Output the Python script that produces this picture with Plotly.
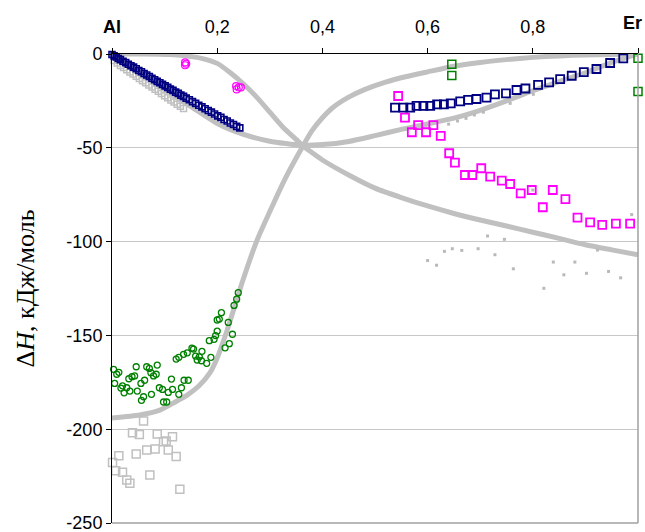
import plotly.graph_objects as go

# ---- data ----
# gray reference curves
curveA_x = [0, 0.06, 0.11, 0.14, 0.17, 0.2, 0.225, 0.25, 0.275, 0.3, 0.325, 0.35, 0.363, 0.38, 0.4, 0.45, 0.5, 0.55, 0.6, 0.65, 0.7, 0.75, 0.8, 0.85, 0.9, 0.95, 1.0]
curveA_y = [0, 0, -0.3, -1, -2.3, -5, -10, -16, -23, -31, -39, -45.5, -49, -52.5, -56.5, -64.5, -71.5, -76.5, -81, -85, -88.5, -91.7, -95, -98.3, -101.7, -104.4, -107]

curveB_x = [0, 0.053, 0.091, 0.12, 0.143, 0.165, 0.186, 0.2, 0.219, 0.235, 0.249, 0.276, 0.3, 0.33, 0.363, 0.38, 0.4, 0.42, 0.45, 0.48, 0.52, 0.56, 0.6, 0.65, 0.7, 0.75, 0.8, 0.85, 0.9, 0.95, 1.0]
curveB_y = [-194, -192.4, -189.8, -185.5, -181.8, -177, -170, -162, -147.1, -133, -120.5, -99.1, -84, -66, -49, -41, -34, -28.5, -23, -19, -15, -12, -9.5, -6.5, -4.5, -3, -1.8, -1, -0.5, -0.2, 0]

curveC_x = [0, 0.05, 0.1, 0.15, 0.2, 0.25, 0.3, 0.36, 0.4, 0.45, 0.5, 0.55, 0.6, 0.65, 0.7, 0.75, 0.8, 0.85, 0.9, 0.95, 1.0]
curveC_y = [0, -9.5, -19, -28, -37, -42.8, -46.5, -48.6, -48.3, -46.6, -43.5, -40.2, -37.3, -34.2, -30, -25, -19.6, -14.7, -10, -4.5, 0]

# navy small squares (Al-rich side)
navyL_x = [0.000, 0.004, 0.008, 0.012, 0.016, 0.021, 0.026, 0.031, 0.036, 0.041, 0.046, 0.051, 0.056, 0.061, 0.066, 0.071, 0.076, 0.081, 0.086, 0.091, 0.096, 0.101, 0.106, 0.111, 0.116, 0.121, 0.126, 0.131, 0.136, 0.141, 0.147, 0.153, 0.159, 0.165, 0.171, 0.177, 0.183, 0.189, 0.195, 0.201, 0.207, 0.213, 0.219, 0.225, 0.231, 0.237, 0.243]
navyL_y = [-0.3, -1.0, -1.6, -2.4, -3.0, -3.9, -4.6, -5.5, -6.3, -7.0, -7.9, -8.8, -9.5, -10.4, -11.2, -12.0, -12.9, -13.7, -14.6, -15.3, -16.2, -17.0, -17.8, -18.7, -19.4, -20.3, -21.0, -21.9, -22.6, -23.5, -24.4, -25.4, -26.3, -27.3, -28.2, -29.2, -30.1, -31.0, -32.0, -33.0, -33.8, -34.9, -35.7, -36.8, -37.6, -38.6, -39.4]

# gray small squares (Al-rich side, upper)
grayU_x = [0.004, 0.010, 0.016, 0.022, 0.028, 0.034, 0.040, 0.046, 0.052, 0.058, 0.064, 0.070, 0.076, 0.082, 0.088, 0.094, 0.100, 0.106, 0.112, 0.118, 0.124, 0.130, 0.136]
grayU_y = [-3.5, -4.8, -6.1, -7.2, -8.4, -9.6, -10.7, -11.9, -13.0, -14.2, -15.3, -16.5, -17.6, -18.8, -19.9, -21.0, -22.2, -23.3, -24.5, -25.6, -26.8, -27.9, -29.0]

# navy squares (Er-rich side)
navyR_x = [0.538, 0.554, 0.567, 0.579, 0.592, 0.605, 0.618, 0.631, 0.644, 0.662, 0.677, 0.693, 0.712, 0.728, 0.749, 0.769, 0.786, 0.810, 0.831, 0.852, 0.874, 0.897, 0.921, 0.947, 0.972]
navyR_y = [-28.6, -28.6, -28.6, -27.7, -27.7, -27.7, -26.8, -26.8, -26.3, -25.2, -24.5, -24.0, -23.3, -21.5, -21.0, -19.2, -18.4, -16.5, -15.1, -13.4, -11.6, -9.7, -8.0, -4.8, -2.3]

# magenta squares
magS_x = [0.544, 0.557, 0.570, 0.582, 0.597, 0.611, 0.625, 0.641, 0.652, 0.671, 0.685, 0.702, 0.719, 0.741, 0.757, 0.777, 0.798, 0.819, 0.838, 0.862, 0.885, 0.909, 0.932, 0.958, 0.985]
magS_y = [-22.4, -33.9, -41.7, -37.9, -41.7, -37.9, -43.6, -52.9, -57.9, -64.5, -64.5, -60.9, -65.4, -67.5, -69.3, -74.3, -72.5, -81.7, -72.5, -77.4, -87.2, -89.7, -91.1, -90.4, -90.4]

# magenta circles
magC_x = [0.139, 0.139, 0.141, 0.236, 0.241, 0.245, 0.237]
magC_y = [-4.5, -6.0, -5.2, -17.1, -17.8, -17.8, -18.9]

# green squares
greenS_x = [0.646, 0.646, 1.0, 1.0]
greenS_y = [-5.5, -11.5, -2.3, -20.0]

# green circles
greenC_x = [0.240, 0.237, 0.232, 0.208, 0.204, 0.200, 0.221, 0.200, 0.197, 0.194, 0.185, 0.229, 0.223, 0.215, 0.188, 0.180, 0.171, 0.166, 0.162, 0.159, 0.155, 0.152, 0.143, 0.136, 0.127, 0.122, 0.170, 0.145, 0.137, 0.132, 0.127, 0.115, 0.113, 0.107, 0.096, 0.090, 0.086, 0.084, 0.079, 0.074, 0.071, 0.066, 0.062, 0.055, 0.048, 0.060, 0.056, 0.075, 0.046, 0.043, 0.038, 0.032, 0.028, 0.023, 0.034, 0.020, 0.017, 0.005, 0.013, 0.009, 0.003, 0.098, 0.104]
greenC_y = [-127.2, -130.7, -134.0, -137.9, -141.3, -141.8, -143.1, -147.7, -150.1, -152.1, -152.8, -149.4, -154.4, -156.6, -161.7, -164.9, -158.5, -161.4, -163.1, -161.0, -157.3, -156.8, -159.3, -160.1, -161.7, -162.6, -163.5, -173.9, -173.9, -177.9, -181.4, -178.8, -173.3, -180.4, -178.8, -177.9, -165.8, -170.7, -171.6, -169.9, -167.6, -166.7, -173.9, -175.6, -179.7, -182.7, -184.6, -181.4, -166.7, -171.6, -172.0, -173.1, -177.9, -180.6, -179.7, -176.9, -178.1, -175.6, -169.7, -170.7, -168.1, -185.5, -185.5]

# gray open squares (bottom-left)
grayB_x = [0.060, 0.039, 0.052, 0.086, 0.098, 0.103, 0.115, 0.082, 0.066, 0.107, 0.046, 0.013, 0.122, 0.001, 0.007, 0.020, 0.028, 0.034, 0.072, 0.129]
grayB_y = [-195.6, -201.9, -202.8, -202.6, -206.7, -206.3, -204.0, -210.5, -211.1, -211.1, -213.2, -214.1, -214.6, -217.8, -222.1, -223.0, -227.1, -228.8, -224.4, -232.0]

# gray small dots
grayD_x = [0.640, 0.657, 0.673, 0.689, 0.706, 0.757, 0.801, 0.600, 0.617, 0.632, 0.647, 0.665, 0.696, 0.714, 0.728, 0.746, 0.763, 0.821, 0.839, 0.859, 0.880, 0.902, 0.923, 0.944, 0.967, 0.988, 0.800]
grayD_y = [-37.4, -35.7, -34.3, -32.5, -31.0, -26.3, -21.5, -110.1, -112.6, -105.2, -103.8, -104.7, -103.8, -97.0, -107.0, -98.8, -114.5, -124.9, -110.9, -117.7, -110.9, -116.9, -104.5, -115.9, -119.3, -85.6, -72.5]

x_tickvals = [0, 0.2, 0.4, 0.6, 0.8, 1.0]
x_ticktext = ["<b>Al</b>", "0,2", "0,4", "0,6", "0,8", ""]
x_end_label = "<b>Er</b>"
y_tickvals = [0, -50, -100, -150, -200, -250]
y_ticktext = ["0", "-50", "-100", "-150", "-200", "-250"]

CURVE = "rgb(192,192,192)"
NAVY = "#000080"
MAG = "#FF00FF"
GREEN = "#008000"
GRAY = "rgb(192,192,192)"

fig = go.Figure()
for cx, cy in [(curveA_x, curveA_y), (curveB_x, curveB_y), (curveC_x, curveC_y)]:
    fig.add_trace(go.Scatter(x=cx, y=cy, mode="lines", line=dict(color=CURVE, width=5, shape="spline", smoothing=0.6), hoverinfo="skip"))

def mk(x, y, symbol, color, size, lw):
    fig.add_trace(go.Scatter(x=x, y=y, mode="markers", cliponaxis=False,
                             marker=dict(symbol=symbol, size=size, color=color, line=dict(color=color, width=lw))))

mk(grayD_x, grayD_y, "square", "rgb(185,185,185)", 3, 0)
mk(grayU_x, grayU_y, "square-open", GRAY, 6, 1.5)
mk(navyL_x, navyL_y, "square-open", NAVY, 6, 1.6)
mk(grayB_x, grayB_y, "square-open", GRAY, 8, 1.5)
mk(greenC_x, greenC_y, "circle-open", GREEN, 6, 1.3)
mk(magC_x, magC_y, "circle-open", MAG, 7, 1.2)
mk(navyR_x, navyR_y, "square-open", NAVY, 8, 1.8)
mk(magS_x, magS_y, "square-open", MAG, 8, 1.8)
mk(greenS_x, greenS_y, "square-open", GREEN, 8, 1.5)

fig.update_layout(
    width=645, height=532,
    margin=dict(l=112, r=7, t=54, b=9),
    paper_bgcolor="white", plot_bgcolor="white",
    showlegend=False,
    font=dict(family="Liberation Sans, Arial", size=18, color="black"),
    xaxis=dict(side="top", range=[0, 1], tickvals=x_tickvals, ticktext=x_ticktext,
               showgrid=False, zeroline=False, showline=True, linecolor="black", linewidth=1,
               ticks="outside", ticklen=5, tickcolor="black", ticklabelstandoff=8,
               ticklabeloverflow="allow", automargin=False),
    yaxis=dict(range=[-250, 0], tickvals=y_tickvals, ticktext=y_ticktext, showgrid=True,
               gridcolor="rgb(200,200,200)", gridwidth=1,
               zeroline=False, showline=True, linecolor="black", linewidth=1,
               ticks="outside", ticklen=5, tickcolor="black", ticklabeloverflow="allow",
               automargin=False),
    shapes=[
        dict(type="line", xref="paper", yref="paper", x0=1, x1=1, y0=0, y1=1, line=dict(color="rgb(160,160,160)", width=1.5)),
        dict(type="line", xref="paper", yref="paper", x0=0, x1=1, y0=0, y1=0, line=dict(color="rgb(160,160,160)", width=1.5)),
    ],
    annotations=[
        dict(text="Δ<i>H</i>, кДж/моль", xref="paper", yref="paper", x=0, y=0.5,
             xanchor="center", yanchor="middle", xshift=-87, textangle=-90, showarrow=False,
             font=dict(family="Liberation Serif, Times New Roman", size=26, color="black")),
        dict(text=x_end_label, xref="paper", yref="paper", x=1, y=1, xanchor="right", yanchor="middle",
             xshift=6, yshift=31, showarrow=False,
             font=dict(family="Liberation Sans, Arial", size=18, color="black")),
    ],
)

fig.write_html("out.html")
